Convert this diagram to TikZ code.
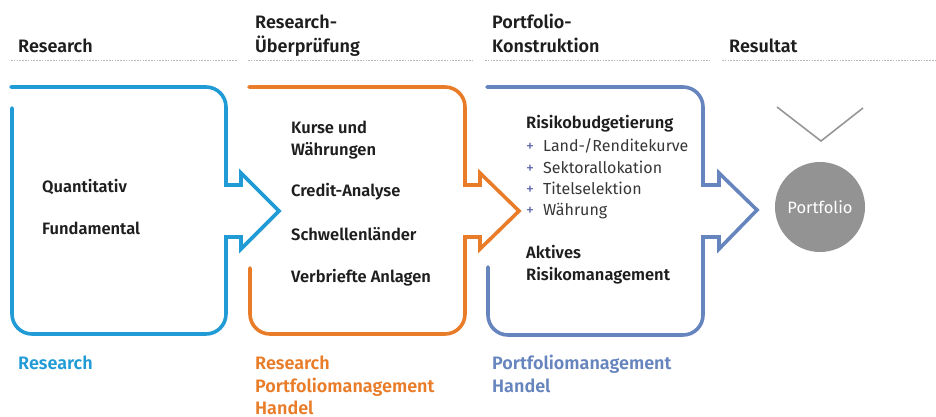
\documentclass[tikz,border=0pt]{standalone}
\usepackage{fontspec}
\setmainfont{Fira Sans}[BoldFont={Fira Sans SemiBold}]
\definecolor{resblue}{RGB}{33,155,214}
\definecolor{resorange}{RGB}{233,124,40}
\definecolor{resslate}{RGB}{102,132,189}
\definecolor{plusmark}{RGB}{90,100,170}
\definecolor{ink}{RGB}{30,30,30}
\definecolor{softink}{RGB}{55,55,55}
\definecolor{rule}{RGB}{185,185,185}
\definecolor{discgray}{RGB}{147,147,147}
\definecolor{chevgray}{RGB}{150,150,150}
\begin{document}
\begin{tikzpicture}[x=1pt,y=-1pt,
  txt/.style={anchor=base west, inner sep=0pt},
  head/.style={txt, text=ink, font=\fontsize{18}{24}\selectfont\bfseries},
  item/.style={txt, text=ink, font=\fontsize{16.5}{21}\selectfont\bfseries},
  subitem/.style={txt, text=softink, font=\fontsize{16}{21}\selectfont},
  plus/.style={txt, text=plusmark, font=\fontsize{16}{21}\selectfont},
  team/.style={txt, font=\fontsize{18}{24}\selectfont\bfseries},
  divider/.style={rule, line width=0.7pt, dash pattern=on 1.6pt off 1.2pt},
  frame/.style={line width=3.6pt, line cap=round, line join=miter},
  disc/.style={circle, fill=discgray, minimum size=90pt, inner sep=0pt,
    text=white, font=\fontsize{16.5}{20}\selectfont}
]
\useasboundingbox (0,0) rectangle (936,416);

% column headings
\node[head] (hResearch) at (18,52) {Research};
\node[head] (hCheckA) at (255,28) {Research-};
\node[head] (hCheckB) at (255,52) {Überprüfung};
\node[head] (hBuildA) at (492,28) {Portfolio-};
\node[head] (hBuildB) at (492,52) {Konstruktion};
\node[head] (hResult) at (729,52) {Resultat};

% dotted rules under the headings
\draw[divider] (11,60) -- (237,60);
\draw[divider] (248,60) -- (473,60);
\draw[divider] (485,60) -- (710,60);
\draw[divider] (722,60) -- (936,60);

% stage frames with arrow notch on the right
\draw[frame, resblue] (11,87) -- (206,87) arc[start angle=90,end angle=0,radius=20pt]
  -- (226,185) -- (241,185) -- (241,173) -- (279,211) -- (241,249) -- (241,237)
  -- (226,237) -- (226,314) arc[start angle=0,end angle=-90,radius=20pt]
  -- (32,334) arc[start angle=270,end angle=180,radius=20pt] -- (12,108);
\draw[frame, resorange] (249,87) -- (445,87) arc[start angle=90,end angle=0,radius=20pt]
  -- (465,185) -- (480,185) -- (480,173) -- (519,211) -- (480,249) -- (480,237)
  -- (465,237) -- (465,314) arc[start angle=0,end angle=-90,radius=20pt]
  -- (270,334) arc[start angle=270,end angle=180,radius=20pt] -- (250,268);
\draw[frame, resslate] (487,87) -- (683,87) arc[start angle=90,end angle=0,radius=20pt]
  -- (703,185) -- (719,185) -- (719,173) -- (757,210) -- (719,249) -- (719,237)
  -- (703,237) -- (703,315) arc[start angle=0,end angle=-90,radius=20pt]
  -- (508,335) arc[start angle=270,end angle=180,radius=20pt] -- (488,267);

% stage 1 contents
\node[item] (quant) at (42,192) {Quantitativ};
\node[item] (fund) at (42,234) {Fundamental};

% stage 2 contents
\node[item] (fxA) at (291,133) {Kurse und};
\node[item] (fxB) at (291,155) {Währungen};
\node[item] (credit) at (291,196) {Credit-Analyse};
\node[item] (em) at (291,240) {Schwellenländer};
\node[item] (abs) at (291,282) {Verbriefte Anlagen};

% stage 3 contents
\node[item] (budget) at (526,128) {Risikobudgetierung};
\node[plus] (p1) at (526,151) {+};
\node[subitem] (curve) at (543,151) {Land-/Renditekurve};
\node[plus] (p2) at (526,173) {+};
\node[subitem] (sector) at (543,173) {Sektorallokation};
\node[plus] (p3) at (526,194) {+};
\node[subitem] (titles) at (543,194) {Titelselektion};
\node[plus] (p4) at (526,215) {+};
\node[subitem] (ccy) at (543,215) {Währung};
\node[item] (activeA) at (526,258) {Aktives};
\node[item] (activeB) at (526,280) {Risikomanagement};

% result
\draw[chevgray, line width=1.6pt] (777,107) -- (821,141) -- (863,108);
\node[disc] (portfolio) at (820,207) {Portfolio};

% responsible teams
\node[team, text=resblue] (tResearch) at (18,369) {Research};
\node[team, text=resorange] (tCheckA) at (255,369) {Research};
\node[team, text=resorange] (tCheckB) at (255,392) {Portfoliomanagement};
\node[team, text=resorange] (tCheckC) at (255,414) {Handel};
\node[team, text=resslate] (tBuildA) at (492,369) {Portfoliomanagement};
\node[team, text=resslate] (tBuildB) at (492,392) {Handel};
\end{tikzpicture}
\end{document}
